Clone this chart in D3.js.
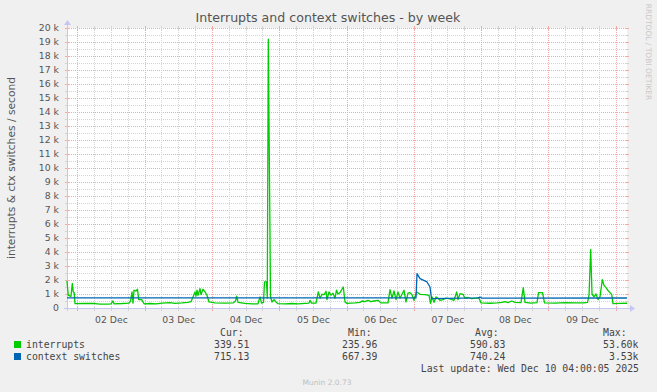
<!DOCTYPE html>
<html>
<head>
<meta charset="utf-8">
<script src="https://cdn.jsdelivr.net/npm/d3@7"></script>
<style>
  html, body { margin: 0; padding: 0; background: #f0f0f0; }
  svg { display: block; }
</style>
</head>
<body>
<script>
// ---------- data (hours from 2025-12-02 00:00 UTC, values per second) ----------
const intHours = [-3.67,-3.21,-2.25,-1.78,-1.43,-1.11,-0.82,2.75,6.31,8.09,10.95,12.02,12.73,13.09,15.94,18.44,18.97,19.51,19.86,20.22,20.93,21.47,21.9,22.97,23.79,25.92,28.06,30.2,33.06,34.84,37.34,39.48,40.55,41.26,41.97,42.33,42.69,43.04,43.76,44.11,44.82,45.54,46.25,46.96,49.1,52.67,55.52,56.41,56.84,57.31,59.8,62.3,64.44,65.15,65.69,66.4,66.76,67.47,67.75,68.11,68.9,69.43,70.14,70.86,71.57,74.07,76.56,78.7,81.2,82.62,82.98,83.51,85.12,85.94,86.55,87.26,87.97,88.69,89.04,89.76,90.47,91.18,91.9,92.43,92.97,93.68,94.86,95.46,96.17,99.03,100.81,101.52,102.59,103.66,104.73,105.8,107.23,108.3,110.8,111.51,112.22,112.93,113.65,114.36,115.07,115.79,116.5,117.21,117.93,118.64,119.35,120.07,120.96,122.21,123.99,125.42,125.95,126.49,127.2,127.91,128.63,129.34,130.41,131.48,132.9,134.33,135.29,135.76,136.47,137.54,138.25,139.32,140.64,142.18,143.25,143.96,147.17,149.67,151.45,152.52,153.59,154.91,156.08,158.22,159.04,159.65,161.79,163.93,164.46,165.89,166.6,170.35,173.91,177.48,180.69,181.94,182.47,183.08,183.54,184.25,184.97,185.68,186.39,187.22,187.82,188.54,189.25,189.96,190.57,191.03,193.53,196.02];
const intValues = [1930,900,830,1750,1150,1100,310,330,320,270,270,300,500,300,320,350,500,1150,350,1270,1200,1340,600,600,300,320,300,350,380,330,360,400,450,790,1150,850,1270,900,1390,950,1340,1150,910,430,360,350,360,500,840,400,330,300,300,790,350,400,1860,1860,700,19200,800,430,600,430,310,300,320,300,330,350,550,350,350,1150,700,980,950,1200,600,1150,910,1060,700,1270,1000,1100,1500,430,330,360,400,500,450,550,450,500,550,360,360,1310,700,1220,600,1150,700,980,1270,430,1060,1100,950,550,1150,980,960,900,330,790,400,790,700,550,600,700,650,550,1150,600,1030,980,700,750,670,700,720,360,340,370,400,450,380,500,400,380,1460,400,350,380,1100,1100,360,350,380,360,370,400,900,4180,1000,800,1000,600,800,2030,1620,1450,1250,1100,950,310,330,340];
const ctxHours  = [-3.67,120.78,121.14,122.21,124.7,125.77,126.31,142.89,143.6,144.32,196.02];
const ctxValues = [720,720,2460,2100,1860,1500,670,720,780,700,715];

const yTicks = [0,1000,2000,3000,4000,5000,6000,7000,8000,9000,10000,11000,12000,13000,14000,15000,16000,17000,18000,19000,20000];
const yLabels = ["0","1 k","2 k","3 k","4 k","5 k","6 k","7 k","8 k","9 k","10 k","11 k","12 k","13 k","14 k","15 k","16 k","17 k","18 k","19 k","20 k"];
const dayLabels = ["02 Dec","03 Dec","04 Dec","05 Dec","06 Dec","07 Dec","08 Dec","09 Dec"];

const seriesNames = ["interrupts","context switches"];
const seriesColors = ["#00cc00","#0066b3"];
const statHeads = ["Cur:","Min:","Avg:","Max:"];
const statInt = ["339.51","235.96","590.83","53.60k"];
const statCtx = ["715.13","667.39","740.24","3.53k"];

// ---------- setup ----------
const W = 657, Hh = 392;
const HOUR = 3600e3;
const base = Date.UTC(2025, 11, 2, 0, 0, 0);
const toDate = h => new Date(base + h * HOUR);
const t0 = toDate(-3.67), t1 = toDate(196.02);

const x = d3.scaleUtc().domain([t0, t1]).range([67, 627]);
const y = d3.scaleLinear().domain([0, 20000]).range([308, 28]);

const svg = d3.select("body").append("svg").attr("width", W).attr("height", Hh);
svg.append("rect").attr("width", W).attr("height", Hh).attr("fill", "#f0f0f0");

// plot area
svg.append("rect").attr("x", 67).attr("y", 28).attr("width", 560).attr("height", 280).attr("fill", "#ffffff");

const grid = svg.append("g").attr("shape-rendering", "crispEdges");
const minorC = "#d4d4d4", majorC = "#f4a9a9";

// horizontal grid
d3.range(500, 20001, 500).forEach(v => {
  const yy = Math.round(y(v)) + 0.5;
  const major = v % 1000 === 0;
  const c = major ? majorC : minorC;
  grid.append("line").attr("x1", 67).attr("x2", 627).attr("y1", yy).attr("y2", yy)
    .attr("stroke", c).attr("stroke-dasharray", "1,1");
  grid.append("line").attr("x1", 65).attr("x2", major ? 69 : 68).attr("y1", yy).attr("y2", yy).attr("stroke", c);
  grid.append("line").attr("x1", major ? 625 : 626).attr("x2", 629).attr("y1", yy).attr("y2", yy).attr("stroke", c);
});

// vertical grid
d3.utcHour.every(6).range(t0, t1).forEach(d => {
  const xx = Math.round(x(d)) + 0.5;
  const major = d.getUTCHours() === 0;
  const c = major ? majorC : minorC;
  grid.append("line").attr("x1", xx).attr("x2", xx).attr("y1", 28).attr("y2", 308)
    .attr("stroke", c).attr("stroke-dasharray", "1,1");
  grid.append("line").attr("x1", xx).attr("x2", xx).attr("y1", major ? 306 : 307).attr("y2", 311).attr("stroke", c);
  grid.append("line").attr("x1", xx).attr("x2", xx).attr("y1", 26).attr("y2", major ? 31 : 30).attr("stroke", c);
});

// axes lines with arrows
const axC = "#c6c6f2";
grid.append("line").attr("x1", 64).attr("x2", 631).attr("y1", 308.5).attr("y2", 308.5).attr("stroke", axC);
grid.append("line").attr("x1", 67.5).attr("x2", 67.5).attr("y1", 311).attr("y2", 24).attr("stroke", axC);
svg.append("path").attr("d", "M630,305 L630,312 L635,308.5 Z").attr("fill", axC);
svg.append("path").attr("d", "M64,25 L71,25 L67.5,20 Z").attr("fill", axC);

// axes labels via d3 axes
const txtC = "#555555";
const yAxis = d3.axisLeft(y).tickValues(yTicks).tickFormat((d, i) => yLabels[i]).tickSize(0).tickPadding(8);
const gy = svg.append("g").attr("transform", "translate(67,0)").call(yAxis);
gy.select(".domain").remove();
gy.selectAll("text").attr("font-family", "DejaVu Sans").attr("font-size", "9.3px").attr("fill", txtC);

const noonDates = dayLabels.map((l, i) => toDate(24 * i + 12));
const xAxis = d3.axisBottom(x).tickValues(noonDates).tickFormat((d, i) => dayLabels[i]).tickSize(0).tickPadding(8);
const gx = svg.append("g").attr("transform", "translate(0,308)").call(xAxis);
gx.select(".domain").remove();
gx.selectAll("text").attr("font-family", "DejaVu Sans").attr("font-size", "9.3px").attr("fill", txtC);

// series
const line = d3.line().x(d => x(toDate(d[0]))).y(d => y(d[1]));
const intData = intHours.map((h, i) => [h, intValues[i]]);
const ctxData = ctxHours.map((h, i) => [h, ctxValues[i]]);
svg.append("path").datum(intData).attr("d", line).attr("fill", "none")
  .attr("stroke", seriesColors[0]).attr("stroke-width", 1.3).attr("stroke-linejoin", "round");
svg.append("path").datum(ctxData).attr("d", line).attr("fill", "none")
  .attr("stroke", seriesColors[1]).attr("stroke-width", 1.3).attr("stroke-linejoin", "round");

// title
svg.append("text").attr("x", 328).attr("y", 22).attr("text-anchor", "middle")
  .attr("font-family", "DejaVu Sans").attr("font-size", "12.6px").attr("fill", txtC)
  .text("Interrupts and context switches - by week");

// y title
svg.append("text").attr("transform", "translate(15,168) rotate(-90)").attr("text-anchor", "middle")
  .attr("font-family", "DejaVu Sans").attr("font-size", "10.7px").attr("fill", txtC)
  .text("interrupts & ctx switches / second");

// side watermark
svg.append("text").attr("transform", "translate(646,52) rotate(90)").attr("text-anchor", "middle")
  .attr("font-family", "DejaVu Sans").attr("font-size", "7.5px").attr("fill", "#c8c8c8")
  .text("RRDTOOL / TOBI OETIKER");

// legend
const mono = "DejaVu Sans Mono", legC = "#444444", legFs = "9.8px";
const headX = [220, 348, 475, 603];
const valX = [[214, 342, 470, 603], [214, 342, 470, 609]];
statHeads.forEach((h, i) => {
  svg.append("text").attr("x", headX[i]).attr("y", 336).attr("font-family", mono).attr("font-size", legFs).attr("fill", legC).text(h);
});
[statInt, statCtx].forEach((row, r) => {
  const by = 348 + r * 12;
  svg.append("rect").attr("x", 14).attr("y", by - 7).attr("width", 7).attr("height", 7).attr("fill", seriesColors[r]);
  svg.append("text").attr("x", 26).attr("y", by).attr("font-family", mono).attr("font-size", legFs).attr("fill", legC).text(seriesNames[r]);
  row.forEach((v, i) => {
    svg.append("text").attr("x", valX[r][i]).attr("y", by).attr("font-family", mono).attr("font-size", legFs).attr("fill", legC).text(v);
  });
});
svg.append("text").attr("x", 639).attr("y", 372).attr("text-anchor", "end").attr("font-family", mono)
  .attr("font-size", legFs).attr("fill", legC).text("Last update: Wed Dec 10 04:00:05 2025");
svg.append("text").attr("x", 327).attr("y", 385).attr("text-anchor", "middle").attr("font-family", "DejaVu Sans")
  .attr("font-size", "7.5px").attr("fill", "#c0c0c0").text("Munin 2.0.73");
</script>
</body>
</html>
